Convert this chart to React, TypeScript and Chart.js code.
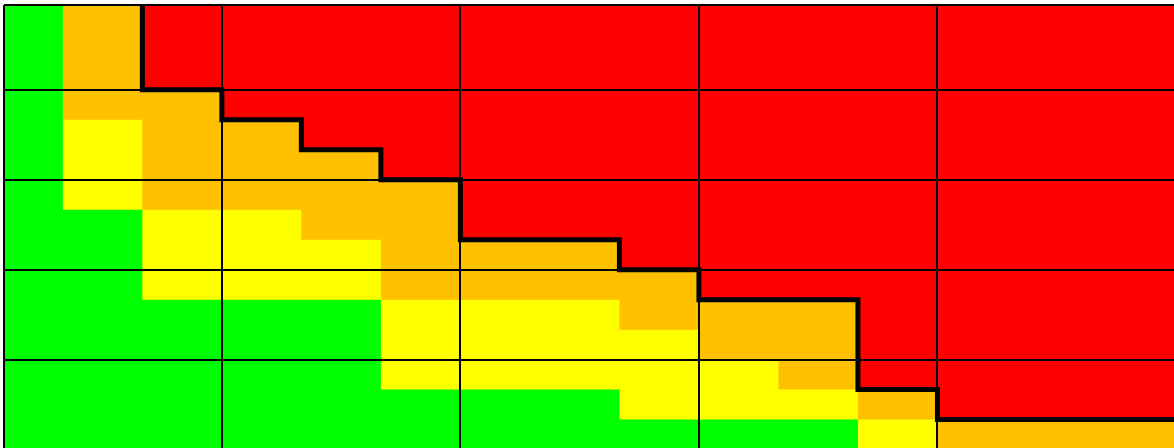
import React, { useEffect, useRef } from "react";
import { Chart, registerables } from "chart.js";

Chart.register(...registerables);

// Column index (left edge of each column of cells)
const columns = [0, 1, 2, 3, 4, 5, 6, 7, 8, 9, 10, 11, 12, 13, 14];
// Upper edge (in rows from the bottom) of each colour band, per column
const greenTop = [15, 8, 5, 5, 5, 2, 2, 2, 1, 1, 1, 0, 0, 0, 0];
const yellowTop = [15, 11, 8, 8, 7, 5, 5, 5, 4, 3, 2, 1, 0, 0, 0];
const orangeTop = [15, 15, 12, 11, 10, 9, 7, 7, 6, 5, 5, 2, 1, 1, 1];
// Major grid lines (every third row / column)
const gridCols = [3, 6, 9, 12];
const gridRows = [3, 6, 9, 12];
// Visible axis window
const xRange = [0.26, 14.975];
const yRange = [0.053, 14.825];

const GREEN = "#00FF00";
const YELLOW = "#FFFF00";
const ORANGE = "#FFC000";
const RED = "#FF0000";

const toSteps = (tops: number[]) => [
  ...columns.map((c, i) => ({ x: c, y: tops[i] })),
  { x: columns[columns.length - 1] + 1, y: tops[tops.length - 1] },
];

export default function App() {
  const ref = useRef<HTMLCanvasElement | null>(null);

  useEffect(() => {
    if (!ref.current) return;
    const band = (label: string, tops: number[], color: string, order: number) => ({
      label,
      data: toSteps(tops),
      stepped: "before" as const,
      fill: "start" as const,
      backgroundColor: color,
      borderColor: "transparent",
      borderWidth: 0,
      pointRadius: 0,
      order,
    });
    const chart = new Chart(ref.current, {
      type: "line",
      data: {
        datasets: [
          {
            label: "Red",
            data: toSteps(orangeTop),
            stepped: "before",
            fill: "end",
            backgroundColor: RED,
            borderColor: "#000000",
            borderWidth: 5,
            borderJoinStyle: "miter",
            borderCapStyle: "butt",
            pointRadius: 0,
            order: 0,
          },
          band("Green", greenTop, GREEN, 1),
          band("Yellow", yellowTop, YELLOW, 2),
          band("Orange", orangeTop, ORANGE, 3),
        ] as any,
      },
      options: {
        animation: false,
        responsive: false,
        maintainAspectRatio: false,
        devicePixelRatio: 1,
        events: [],
        layout: { padding: { left: 4, top: 5, right: 0, bottom: 0 } },
        plugins: {
          legend: { display: false },
          tooltip: { enabled: false },
          title: { display: false },
        },
        scales: {
          x: {
            type: "linear",
            min: xRange[0],
            max: xRange[1],
            afterBuildTicks: (s: any) => {
              s.ticks = [xRange[0], ...gridCols].map((v) => ({ value: v }));
            },
            ticks: { display: false },
            grid: { color: "#000000", lineWidth: 2, drawTicks: false, z: 1 },
            border: { display: false },
          },
          y: {
            type: "linear",
            min: yRange[0],
            max: yRange[1],
            afterBuildTicks: (s: any) => {
              s.ticks = [...gridRows, yRange[1]].map((v) => ({ value: v }));
            },
            ticks: { display: false },
            grid: { color: "#000000", lineWidth: 2, drawTicks: false, z: 1 },
            border: { display: false },
          },
        },
      } as any,
    });
    return () => chart.destroy();
  }, []);

  return (
    <div style={{ width: 1174, height: 448, position: "relative" }}>
      <style>{`html,body{margin:0;padding:0;overflow:hidden;background:#fff}`}</style>
      <canvas ref={ref} width={1174} height={448} style={{ display: "block" }} />
    </div>
  );
}
